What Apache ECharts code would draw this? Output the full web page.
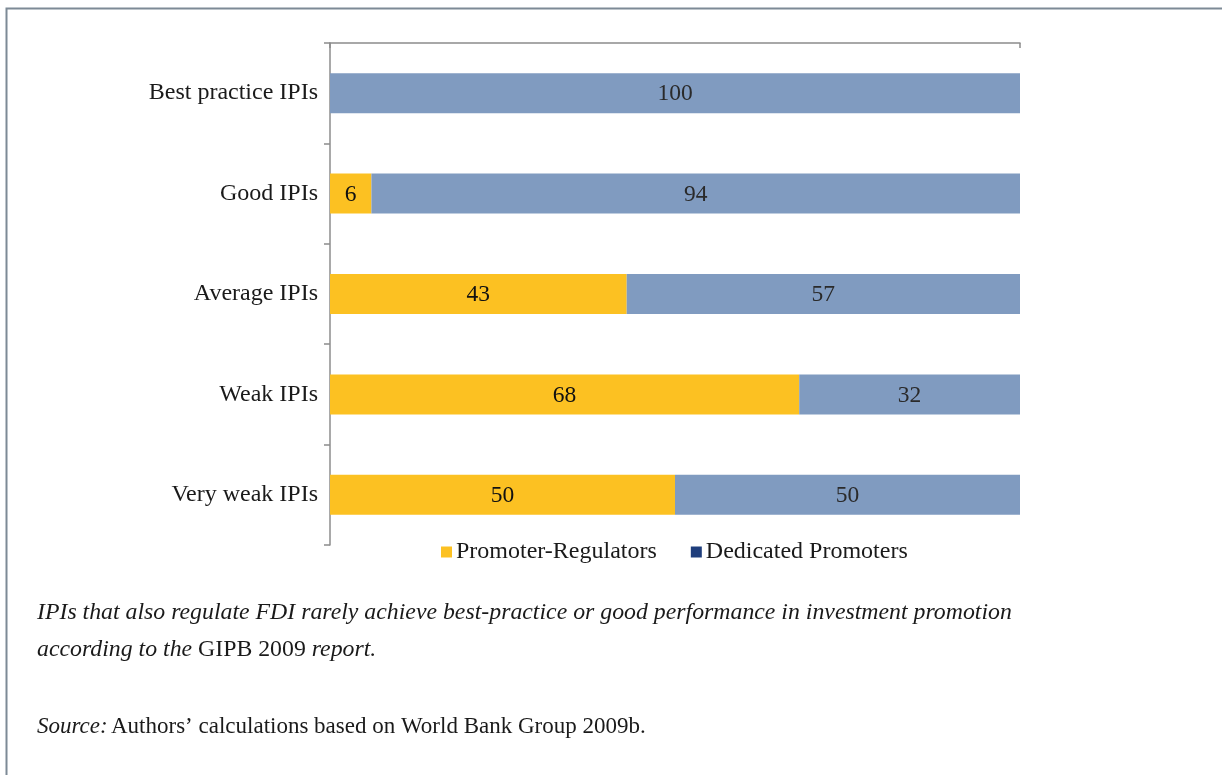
<!DOCTYPE html>
<html>
<head>
<meta charset="utf-8">
<script src="https://cdn.jsdelivr.net/npm/echarts@6/dist/echarts.min.js"></script>
<style>
  html, body { margin: 0; padding: 0; background: #fff; }
  #chart { width: 1222px; height: 775px; }
</style>
</head>
<body>
<div id="chart"></div>
<script>
// Categories listed bottom to top (category axis runs upward)
const categories = ['Very weak IPIs', 'Weak IPIs', 'Average IPIs', 'Good IPIs', 'Best practice IPIs'];
const promoterRegulators = [50, 68, 43, 6, 0];
const dedicatedPromoters = [50, 32, 57, 94, 100];
const seriesNames = ['Promoter-Regulators', 'Dedicated Promoters'];

const SERIF = '"Liberation Serif", "DejaVu Serif", serif';
const YELLOW = '#FCC122';
const BLUE = '#809BC0';
const NAVY = '#1F3E7C';

const chart = echarts.init(document.getElementById('chart'), null, { renderer: 'canvas' });

const valueLabel = color => ({
  show: true,
  position: 'inside',
  color: color,
  fontSize: 23.5,
  fontFamily: SERIF,
  offset: [0, 1],
  formatter: p => (p.value > 0 ? String(p.value) : '')
});

chart.setOption({
  animation: false,
  backgroundColor: '#fff',
  textStyle: { fontFamily: SERIF },
  grid: { left: 330, right: 202, top: 43, bottom: 230, containLabel: false },
  xAxis: {
    type: 'value',
    position: 'top',
    min: 0,
    max: 100,
    interval: 100,
    axisLine: { show: true, lineStyle: { color: '#8c8c8c', width: 1.5 } },
    axisTick: { show: true, inside: true, length: 5, lineStyle: { color: '#8c8c8c', width: 1.5 } },
    axisLabel: { show: false },
    splitLine: { show: false }
  },
  yAxis: {
    type: 'category',
    data: categories,
    axisLine: { show: true, lineStyle: { color: '#8c8c8c', width: 1.5 } },
    axisTick: { show: true, length: 6, lineStyle: { color: '#8c8c8c', width: 1.5 } },
    axisLabel: { color: '#1a1a1a', fontSize: 24, fontFamily: SERIF, margin: 12, padding: [3, 0, 0, 0] },
    splitLine: { show: false }
  },
  legend: {
    top: 535,
    left: 436,
    data: [
      { name: seriesNames[0], itemStyle: { color: YELLOW } },
      { name: seriesNames[1], itemStyle: { color: NAVY } }
    ],
    icon: 'rect',
    itemWidth: 11,
    itemHeight: 11,
    itemGap: 34,
    textStyle: { fontFamily: SERIF, fontSize: 24, color: '#1a1a1a', padding: [0, 0, 0, -1] }
  },
  series: [
    {
      name: seriesNames[0],
      type: 'bar',
      stack: 'total',
      barWidth: 40,
      data: promoterRegulators,
      itemStyle: { color: YELLOW },
      label: valueLabel('#111')
    },
    {
      name: seriesNames[1],
      type: 'bar',
      stack: 'total',
      barWidth: 40,
      data: dedicatedPromoters,
      itemStyle: { color: BLUE },
      label: valueLabel('#2a2a2a')
    }
  ],
  graphic: [
    // frame around the figure (open at right and bottom)
    {
      type: 'polyline',
      shape: { points: [[6.5, 775], [6.5, 8.5], [1222, 8.5]] },
      style: { stroke: '#7d8a96', lineWidth: 2, fill: null },
      silent: true
    },
    {
      type: 'text',
      left: 37,
      top: 601,
      style: {
        text: '{i|IPIs that also regulate FDI rarely achieve best-practice or good performance in investment promotion}',
        rich: {
          i: { fontFamily: SERIF, fontStyle: 'italic', fontSize: 23.8, fill: '#1a1a1a' }
        }
      }
    },
    {
      type: 'text',
      left: 37,
      top: 638,
      style: {
        text: '{i|according to the }{n|GIPB 2009 }{i|report.}',
        rich: {
          i: { fontFamily: SERIF, fontStyle: 'italic', fontSize: 23.8, fill: '#1a1a1a' },
          n: { fontFamily: SERIF, fontSize: 23.8, fill: '#1a1a1a' }
        }
      }
    },
    {
      type: 'text',
      left: 37,
      top: 715,
      style: {
        text: '{i|Source:} {n|Authors\u2019 calculations based on World Bank Group 2009b.}',
        rich: {
          i: { fontFamily: SERIF, fontStyle: 'italic', fontSize: 23, fill: '#1a1a1a' },
          n: { fontFamily: SERIF, fontSize: 23, fill: '#1a1a1a' }
        }
      }
    }
  ]
});
</script>
</body>
</html>
